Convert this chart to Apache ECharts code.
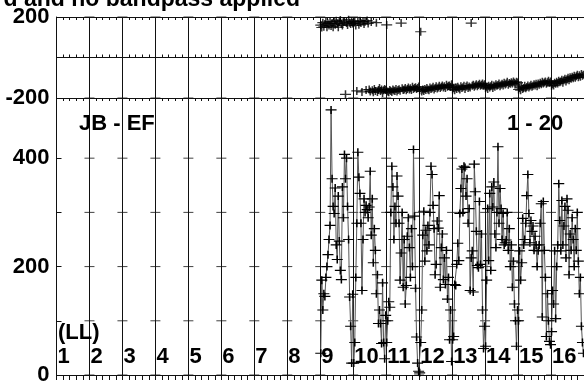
<!DOCTYPE html>
<html><head><meta charset="utf-8">
<script src="https://cdn.jsdelivr.net/npm/echarts@6/dist/echarts.min.js"></script>
<style>html,body{margin:0;padding:0;background:#fff}#c{width:584px;height:386px}</style>
</head><body><div id="c"></div>
<script>
// ---------- data ----------
const ifCount = 16;
const channelsPerIF = 32;
const dataIFs = [9, 10, 11, 12, 13, 14, 15, 16];

const amp9  = [40,175,120,150,145,180,200,222,250,276,489,362,311,298,345,240,213,330,247,193,176,347,290,407,362,400,311,250,144,90,22,149];
const amp10 = [22,60,180,280,411,365,335,280,156,250,325,300,313,305,290,310,376,258,325,207,270,230,150,185,95,120,95,58,170,60,30,110];
const amp11 = [60,100,135,125,300,385,347,250,311,280,367,330,280,175,225,300,162,250,131,165,256,290,235,180,270,200,416,293,160,70,22,7];
const amp12 = [4,60,120,258,302,210,267,229,276,240,300,385,370,313,270,185,204,284,271,331,162,235,260,176,216,167,230,140,180,65,120,25];
const amp13 = [65,71,167,165,204,243,211,298,344,380,300,385,383,330,362,280,307,156,216,229,153,389,338,265,202,198,320,204,260,120,49,90];
const amp14 = [53,175,307,211,335,193,347,310,356,260,235,300,421,280,344,307,250,298,240,244,249,300,230,270,200,240,162,210,131,100,53,120];
const amp15 = [100,229,175,207,289,240,250,280,331,370,298,244,285,265,275,230,256,240,200,229,240,280,316,107,320,230,180,71,150,100,62,56];
const amp16 = [80,156,131,229,104,200,240,353,285,229,322,240,275,311,216,325,304,185,260,230,290,250,200,270,230,300,210,150,180,90,60,40];

const phase9  = [160,148,172,152,165,175,150,168,158,178,155,170,150,176,162,182,168,150,175,185,165,158,176,180,-182,170,160,186,172,165,178,168];
const phase10 = [170,178,158,-165,175,162,182,170,-170,178,165,176,-160,183,168,-158,-168,175,-162,-172,-155,-165,172,-170,-160,-150,-166,-158,-175,-162,-155,-160];
const phase11 = [161,-168,-172,-160,-165,-170,-158,-163,-166,-155,-168,-160,-157,-164,170,-152,-160,-158,-150,-162,-155,-148,-158,-152,-160,-145,-155,-150,-147,-156,-150,-143];
const phase12 = [-162,127,-168,-158,-165,-155,-160,-150,-158,-162,-148,-155,-152,-145,-158,-150,-142,-153,-148,-140,-150,-145,-138,-148,-142,-150,-135,-145,-140,-138,-146,-132];
const phase13 = [-158,-150,-162,-148,-155,-145,-152,-158,-142,-150,-147,-140,-155,-145,-138,-150,-143,-148,170,-140,-135,-145,-138,-132,-142,-136,-130,-140,-134,-128,-138,-132];
const phase14 = [-150,-145,-155,-140,-148,-142,-135,-150,-138,-145,-132,-140,-136,-128,-142,-135,-130,-138,-125,-133,-128,-120,-135,-126,-130,-122,-128,-118,-125,-130,-120,-124];
const phase15 = [-158,-150,-162,-145,-155,-150,-140,-152,-146,-138,-148,-142,-135,-145,-140,-132,-138,-130,-142,-128,-135,-125,-132,-120,-128,-124,-118,-130,-122,-115,-125,-118];
const phase16 = [-140,-132,-138,-125,-130,-120,-128,-115,-122,-118,-110,-125,-112,-105,-118,-108,-100,-112,-98,-105,-95,-102,-90,-100,-92,-85,-98,-88,-95,-82,-90,-85];

const phaseMin = -200, phaseMax = 200, phaseInterval = 200;
const ampMin = 0, ampMax = 511, ampInterval = 100;
const ampTickValues = [100, 200, 300, 400];
const ampLabelValues = [0, 200, 400];
const ampLineTicks = [0, 100, 200, 300, 400];
const phaseLineTicks = [-200, 200];

const titleText = 'd and no bandpass applied';
const baselineText = 'JB - EF';
const rangeText = '1 - 20';
const polText = '(LL)';

// ---------- build ----------
const ampByIF = [amp9, amp10, amp11, amp12, amp13, amp14, amp15, amp16];
const phaseByIF = [phase9, phase10, phase11, phase12, phase13, phase14, phase15, phase16];
const ampData = [], phaseData = [];
dataIFs.forEach((ifn, i) => {
  for (let c = 0; c < channelsPerIF; c++) {
    const x = (ifn - 1) + (c + 0.5) / channelsPerIF;
    ampData.push([x, ampByIF[i][c]]);
    phaseData.push([x, phaseByIF[i][c]]);
  }
});
const ampDeco = [], phaseDeco = [];
for (let k = 1; k < ifCount; k++) {
  ampLineTicks.forEach(v => ampDeco.push([k, v]));
  phaseLineTicks.forEach(v => phaseDeco.push([k, v]));
}

const FONT = '"Liberation Sans", Arial, Helvetica, sans-serif';
const LC = '#111';
const plus = 'path://M0,4L11,4M5.5,0L5.5,8';

const gridL = 56.5, gridR = -6;
const baseX = {
  type: 'value', min: 0, max: ifCount, interval: 1,
  axisLine: { show: true, lineStyle: { color: LC, width: 1 } },
  axisTick: { show: true, inside: true, length: 3, lineStyle: { color: LC } },
  minorTick: { show: true, splitNumber: 5, length: 3, lineStyle: { color: LC } },
  axisLabel: { show: false },
  splitLine: { show: false }
};

const chart = echarts.init(document.getElementById('c'), null, { renderer: 'canvas' });
chart.setOption({
  animation: false,
  backgroundColor: '#fff',
  grid: [
    { left: gridL, right: gridR, top: 17, height: 81 },
    { left: gridL, right: gridR, top: 98, bottom: 6.6 }
  ],
  xAxis: [
    Object.assign({}, baseX, { gridIndex: 0, position: 'bottom',
      splitLine: { show: true, lineStyle: { color: LC, width: 1 } } }),
    Object.assign({}, baseX, { gridIndex: 0, position: 'top' }),
    Object.assign({}, baseX, { gridIndex: 1, position: 'bottom',
      axisTick: { show: true, inside: false, length: 5, lineStyle: { color: LC } },
      minorTick: { show: true, splitNumber: 5, length: 5, lineStyle: { color: LC } },
      splitLine: { show: true, lineStyle: { color: LC, width: 1 } },
      axisLabel: { show: true, inside: true, margin: 18, align: 'left', verticalAlign: 'middle',
        padding: [0, 0, 0, 1],
        fontFamily: FONT, fontWeight: 'bold', fontSize: 22, color: '#000',
        showMaxLabel: false,
        formatter: v => (v < ifCount ? String(v + 1) : '') } }),
    Object.assign({}, baseX, { gridIndex: 1, position: 'top' })
  ],
  yAxis: [
    { type: 'value', gridIndex: 0, min: phaseMin, max: phaseMax, interval: phaseInterval,
      axisLine: { show: true, lineStyle: { color: LC } },
      axisTick: { show: true, inside: true, length: 5, lineStyle: { color: LC } },
      splitLine: { show: true, lineStyle: { color: LC, width: 1 } },
      axisLabel: { fontFamily: FONT, fontWeight: 'bold', fontSize: 22, color: '#000', margin: 7,
        formatter: v => (v === 0 ? '' : String(v)) } },
    { type: 'value', gridIndex: 1, min: ampMin, max: ampMax, interval: ampInterval,
      axisLine: { show: true, lineStyle: { color: LC } },
      axisTick: { show: true, inside: true, length: 5, customValues: ampTickValues, lineStyle: { color: LC } },
      splitLine: { show: false },
      axisLabel: { fontFamily: FONT, fontWeight: 'bold', fontSize: 22, color: '#000', margin: 7,
        customValues: ampLabelValues } }
  ],
  series: [
    { type: 'scatter', xAxisIndex: 0, yAxisIndex: 0, data: phaseDeco, silent: true,
      symbol: 'rect', symbolSize: [10, 1], itemStyle: { color: LC } },
    { type: 'scatter', xAxisIndex: 2, yAxisIndex: 1, data: ampDeco, silent: true,
      symbol: 'rect', symbolSize: [10, 1], itemStyle: { color: LC } },
    { type: 'scatter', xAxisIndex: 0, yAxisIndex: 0, data: phaseData, silent: true,
      symbol: plus, symbolSize: [11, 8],
      itemStyle: { color: 'transparent', borderColor: '#000', borderWidth: 1.3 } },
    { type: 'line', xAxisIndex: 2, yAxisIndex: 1, data: ampData, silent: true,
      showSymbol: true, symbol: plus, symbolSize: [11, 8],
      lineStyle: { color: '#555', width: 1 },
      itemStyle: { color: 'transparent', borderColor: '#000', borderWidth: 1.3 } }
  ],
  graphic: [
    { type: 'text', x: 300, y: 0, z: 100, style: { text: titleText, fill: '#000',
      font: 'bold 23px ' + FONT, textAlign: 'right', align: 'right', textVerticalAlign: 'middle', verticalAlign: 'middle' } },
    { type: 'text', x: 79, y: 123.5, z: 100, style: { text: baselineText, fill: '#000',
      font: 'bold 22px ' + FONT, textAlign: 'left', align: 'left', textVerticalAlign: 'middle', verticalAlign: 'middle' } },
    { type: 'text', x: 507, y: 123.5, z: 100, style: { text: rangeText, fill: '#000',
      font: 'bold 22px ' + FONT, textAlign: 'left', align: 'left', textVerticalAlign: 'middle', verticalAlign: 'middle' } },
    { type: 'text', x: 58, y: 333, z: 100, style: { text: polText, fill: '#000',
      font: 'bold 22px ' + FONT, textAlign: 'left', align: 'left', textVerticalAlign: 'middle', verticalAlign: 'middle' } }
  ]
});
</script></body></html>
